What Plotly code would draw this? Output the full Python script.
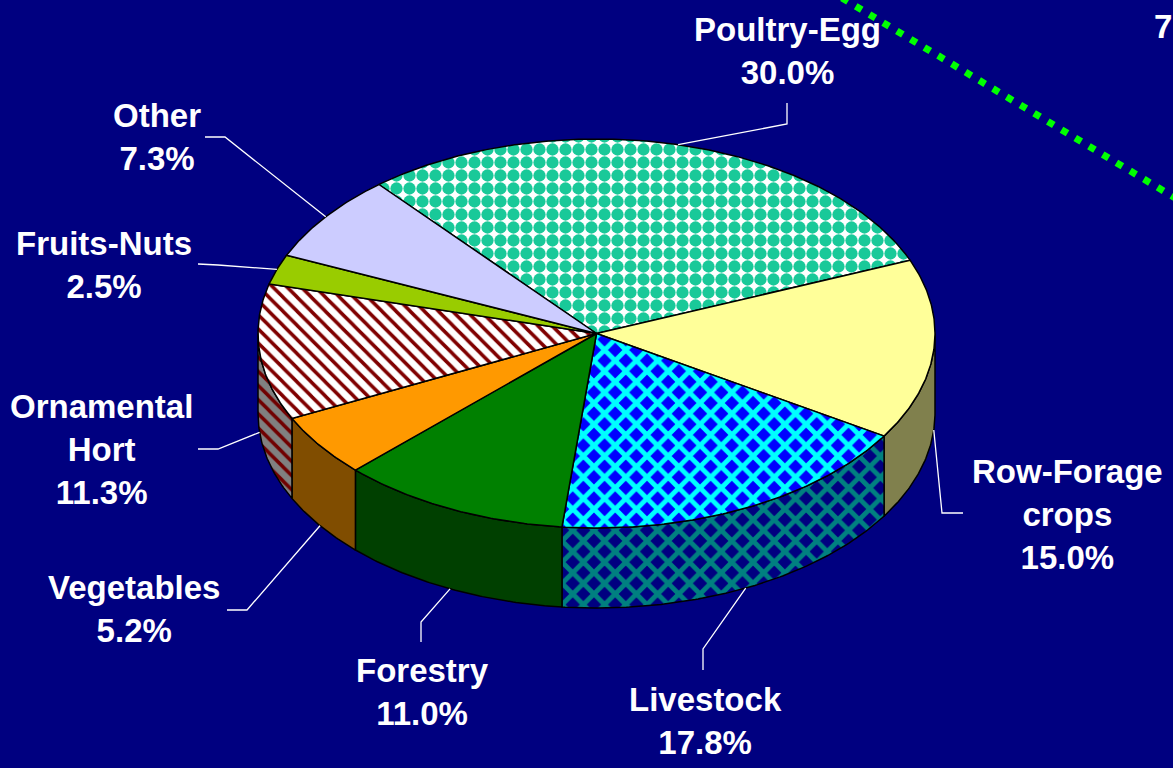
import numpy as np
import plotly.graph_objects as go

# ---- data -------------------------------------------------------------
categories = ["Poultry-Egg", "Row-Forage<br>crops", "Livestock", "Forestry",
              "Vegetables", "Ornamental<br>Hort", "Fruits-Nuts", "Other"]
shares = [30.0, 15.0, 17.8, 11.0, 5.2, 11.3, 2.5, 7.3]

# ---- styling ----------------------------------------------------------
top_fill = ["#00CC99", "#FFFF99", "#0000FF", "#008000",
            "#FF9900", "#FFFFFF", "#99CC00", "#CCCCFF"]
side_fill = ["#006650", "#80804D", "#000080", "#004000",
             "#804D00", "#808080", "#4D6600", "#666680"]
top_pattern = [
    dict(shape=".", fgcolor="#19C999", bgcolor="#FFFFFF", size=13, solidity=0.7),
    None,
    dict(shape="x", fgcolor="#00FFFF", bgcolor="#0000FF", size=15, solidity=0.55),
    None,
    None,
    dict(shape="\\", fgcolor="#800000", bgcolor="#FFFFFF", size=10, solidity=0.35),
    None,
    None,
]
side_pattern = [
    None,
    None,
    dict(shape="x", fgcolor="#008080", bgcolor="#000080", size=15, solidity=0.55),
    None,
    None,
    dict(shape="\\", fgcolor="#700000", bgcolor="#808080", size=10, solidity=0.35),
    None,
    None,
]

# label placement (pixel space): text centre, leader start, leader elbow
label_xy = [(787, 51), (1067, 514), (705, 721), (422, 692),
            (134, 609), (101, 449), (104, 265), (157, 137)]
leader_start = [(787, 103), (963, 513), (703, 670), (421, 642),
                (227, 610), (198, 449), (198, 264), (205, 137)]
leader_elbow = [(787, 124), (942, 513), (703, 649), (421, 622),
                (247, 610), (218, 449), (218, 265), (225, 137)]

# ---- pie geometry (pixel space, y grows downward) ---------------------
CX, CY = 596.5, 333.5
RX, RY = 338.5, 194.5
DEPTH = 80
START = 130.0          # angle of the first slice edge, slices run clockwise

BG = "#000080"


def ellipse(t_deg, drop=0.0):
    t = np.radians(t_deg)
    return CX + RX * np.cos(t), CY - RY * np.sin(t) + drop


total = sum(shares)
edges = START - np.concatenate([[0], np.cumsum(shares)]) / total * 360.0

fig = go.Figure()


def fill_kwargs(color, pattern):
    kw = dict(fillcolor=color)
    if pattern is not None:
        kw["fillpattern"] = dict(fillmode="replace", **pattern)
    return kw


# side walls for the front half of the pie
for i in range(len(shares)):
    a0, a1 = edges[i], edges[i + 1]
    hi, lo = min(a0, 0.0), max(a1, -180.0)
    if hi <= lo:
        continue
    t = np.linspace(hi, lo, int((hi - lo) * 2) + 2)
    xt, yt = ellipse(t)
    xb, yb = ellipse(t[::-1], DEPTH)
    xs = np.concatenate([xt, xb, xt[:1]])
    ys = np.concatenate([yt, yb, yt[:1]])
    fig.add_trace(go.Scatter(
        x=xs, y=ys, mode="lines", fill="toself",
        line=dict(color="black", width=1.5),
        hoverinfo="skip", showlegend=False,
        **fill_kwargs(side_fill[i], side_pattern[i]),
    ))

# top faces
for i in range(len(shares)):
    a0, a1 = edges[i], edges[i + 1]
    t = np.linspace(a0, a1, int((a0 - a1) * 2) + 2)
    xa, ya = ellipse(t)
    xs = np.concatenate([[CX], xa, [CX]])
    ys = np.concatenate([[CY], ya, [CY]])
    fig.add_trace(go.Scatter(
        x=xs, y=ys, mode="lines", fill="toself",
        line=dict(color="black", width=1.5),
        hoverinfo="skip", showlegend=False,
        **fill_kwargs(top_fill[i], top_pattern[i]),
    ))

# leader lines: from label to the middle of each slice's outer rim
for i in range(len(shares)):
    mid = (edges[i] + edges[i + 1]) / 2.0
    drop = DEPTH if np.sin(np.radians(mid)) < 0 else 0.0
    ex, ey = ellipse(mid, drop)
    fig.add_trace(go.Scatter(
        x=[leader_start[i][0], leader_elbow[i][0], ex],
        y=[leader_start[i][1], leader_elbow[i][1], ey],
        mode="lines", line=dict(color="white", width=1.3),
        hoverinfo="skip", showlegend=False,
    ))

label_font = dict(family="Liberation Sans, Arial, sans-serif", size=33,
                  color="white", weight="bold")
annotations = []
for i, name in enumerate(categories):
    annotations.append(dict(
        x=label_xy[i][0], y=label_xy[i][1], xref="x", yref="y",
        text=f"{name}<br>{shares[i]:.1f}%", showarrow=False,
        xanchor="center", yanchor="middle", align="center",
        font=label_font,
    ))
annotations.append(dict(
    x=1152, y=26, xref="x", yref="y", text="7", showarrow=False,
    xanchor="left", yanchor="middle", font=label_font,
))

fig.update_layout(
    width=1173, height=768,
    margin=dict(l=0, r=0, t=0, b=0),
    paper_bgcolor=BG, plot_bgcolor=BG,
    xaxis=dict(range=[0, 1173], visible=False, fixedrange=True),
    yaxis=dict(range=[768, 0], visible=False, fixedrange=True),
    showlegend=False, hovermode=False,
    annotations=annotations,
    shapes=[dict(type="line", xref="x", yref="y", x0=842, y0=-2, x1=1182, y1=202,
                 line=dict(color="#00FF00", width=7, dash="7px,9px"))],
)

fig.write_html("out.html", config={"displayModeBar": False})
